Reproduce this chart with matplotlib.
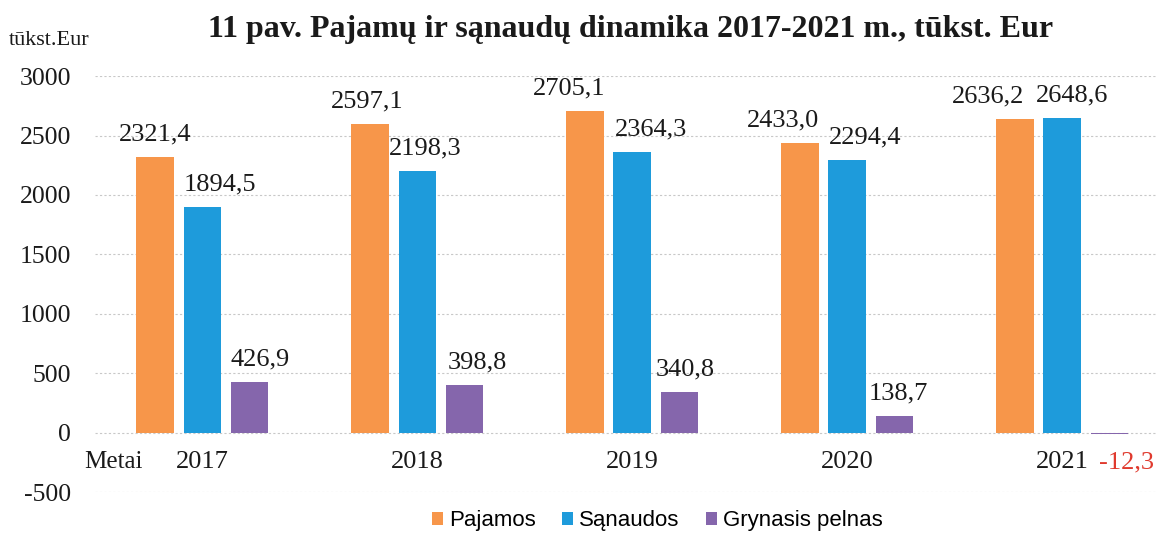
import numpy as np
import matplotlib.pyplot as plt

# duomenys
metai = ['2017', '2018', '2019', '2020', '2021']
pajamos = [2321.4, 2597.1, 2705.1, 2433.0, 2636.2]
sanaudos = [1894.5, 2198.3, 2364.3, 2294.4, 2648.6]
pelnas = [426.9, 398.8, 340.8, 138.7, -12.3]

serijos = ['Pajamos', 'Sąnaudos', 'Grynasis pelnas']
spalvos = ['#F7964A', '#1E9BDB', '#8566AC']

# etikečių poslinkiai (kaip originale)
lbl_dx = [
    [0.0, -0.014, -0.074, -0.079, -0.126],
    [0.084, 0.037, 0.088, 0.084, 0.047],
    [0.047, 0.06, 0.028, 0.019, 0.0],
]

plt.rcParams['font.family'] = ['Liberation Serif', 'DejaVu Serif']
plt.rcParams['axes.unicode_minus'] = False

fig = plt.figure(figsize=(11.57, 5.36), dpi=100)
ax = fig.add_axes([0.082, 0.082, 0.929, 0.776])

x = np.arange(len(metai))
plotis = 0.175
zingsnis = 0.22
duomenys = [pajamos, sanaudos, pelnas]

for i, (vals, pav, sp) in enumerate(zip(duomenys, serijos, spalvos)):
    xs = x + (i - 1) * zingsnis
    ax.bar(xs, vals, width=plotis, color=sp, label=pav, zorder=3)
    for j, (xx, v) in enumerate(zip(xs, vals)):
        if v < 0:
            continue
        ax.text(xx + lbl_dx[i][j], v + 140, f'{v:.1f}'.replace('.', ','),
                ha='center', va='baseline', fontsize=19, color='#1a1a1a')

# metai po nuliu
for xx, m in zip(x, metai):
    ax.text(xx, -250, m, ha='center', va='center', fontsize=19, color='#1a1a1a')
ax.text(-0.415, -250, 'Metai', ha='center', va='center', fontsize=18, color='#1a1a1a')
ax.text(x[-1] + 0.3, -250, '-12,3', ha='center', va='center', fontsize=19, color='#E03A2E')

ax.set_xlim(-0.5, 4.5)
ax.set_ylim(-500, 3000)
ax.set_yticks(np.arange(-500, 3001, 500))
ax.set_xticks([])
ax.tick_params(axis='y', length=0, labelsize=18.5, pad=17, colors='#1a1a1a')
ax.grid(axis='y', color='#c8c8c8', linestyle=(0, (2, 2)), linewidth=0.8, zorder=0)
for s in ax.spines.values():
    s.set_visible(False)

fig.text(0.545, 0.945, '11 pav. Pajamų ir sąnaudų dinamika 2017-2021 m., tūkst. Eur',
         ha='center', va='center', fontsize=23, fontweight='bold', color='#1a1a1a')
fig.text(0.008, 0.925, 'tūkst.Eur', ha='left', va='center', fontsize=16, color='#1a1a1a')

leg = fig.legend(loc='center', bbox_to_anchor=(0.568, 0.028), ncol=3, frameon=False,
                 prop={'family': 'Liberation Sans', 'size': 16},
                 handlelength=0.5, handleheight=0.5, handletextpad=0.25, columnspacing=1.2)

plt.savefig('out.png', dpi=100)
